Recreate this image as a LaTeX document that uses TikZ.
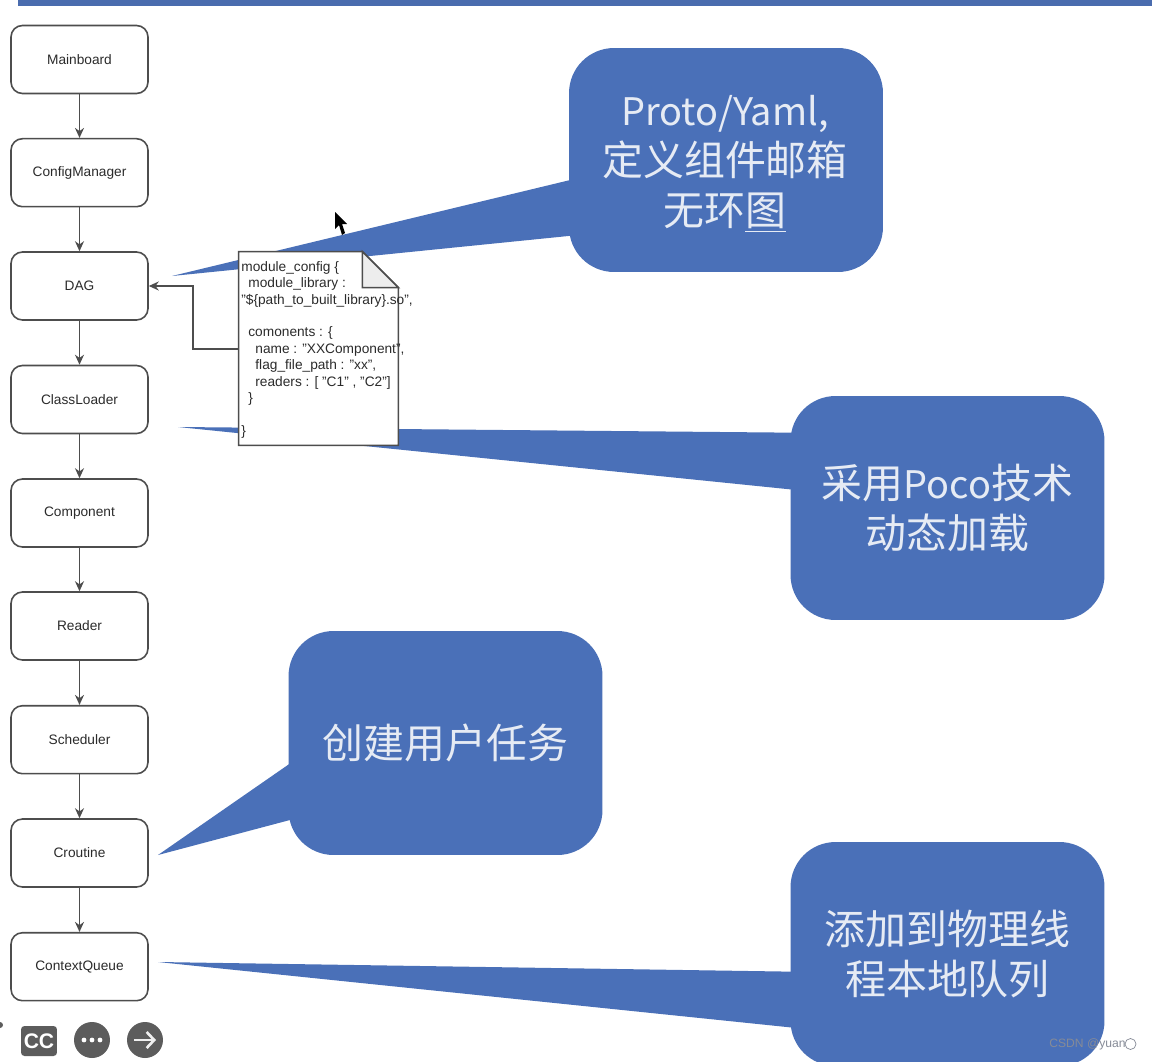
\documentclass[tikz,border=0pt]{standalone}
\usepackage{xcolor}
\usepackage{fontspec}
\setmainfont{Liberation Sans}
\newfontfamily\cjk{Noto Sans CJK SC}
\usepackage{tikz}
\usetikzlibrary{arrows.meta, calc}
\definecolor{calloutblue}{HTML}{4A70B8}
\definecolor{barblue}{HTML}{4A6CAE}
\definecolor{calloutink}{HTML}{E6EBF4}
\definecolor{boxline}{HTML}{4D4D4D}
\definecolor{labelink}{HTML}{2B2B2B}
\definecolor{foldgrey}{HTML}{EDEDED}
\definecolor{icongrey}{HTML}{5C5C5C}
\definecolor{markgrey}{HTML}{868B97}
\newcommand{\latinword}[1]{{\fontsize{21.6}{28.4}\selectfont #1}}
\tikzset{
  stagebox/.style={draw=boxline, line width=0.9pt, rounded corners=6.5pt, fill=white, align=center, font=\fontsize{7.8}{9.3}\selectfont, text=labelink, minimum width=2.74cm, minimum height=1.36cm, inner sep=0pt},
  callout/.style={fill=calloutblue, rounded corners=0.9cm, minimum width=6.28cm, minimum height=4.48cm, inner sep=0pt},
  callouttext/.style={align=center, font=\fontsize{23.3}{28.4}\selectfont\cjk, text=calloutink, inner sep=0pt},
  tail/.style={fill=calloutblue},
  arrow/.style={-{Stealth[length=2mm,width=1.8mm]}, line width=0.9pt, draw=boxline},
  icon/.style={fill=icongrey, text=white, inner sep=0pt},
}
\begin{document}
\begin{tikzpicture}[x=0.02cm, y=-0.02cm]
  \clip (0,0) rectangle (1152,1061);
  \fill[white] (0,0) rectangle (1152,1061);
  \fill[barblue] (18,0) rectangle (1152,6);
  % Stages down the left side
  \foreach \name/\txt/\y in {mainboard/Mainboard/59.5, config/ConfigManager/172.7, dag/DAG/286, loader/ClassLoader/399.5, component/Component/513, reader/Reader/626, scheduler/Scheduler/739.7, croutine/Croutine/853, queue/ContextQueue/966.7}
    \node[stagebox] (\name) at (79.5,\y) {\txt};
  \foreach \a/\b in {mainboard/config, config/dag, dag/loader, loader/component, component/reader, reader/scheduler, scheduler/croutine, croutine/queue}
    \draw[arrow] (\a) -- (\b);
  % Callouts
  \node[callout] (proto) at (726,160) {};
  \node[callout] (poco) at (947.5,508) {};
  \node[callout] (task) at (445.5,743) {};
  \node[callout] (local) at (947.5,954) {};
  \coordinate (prototip) at (172,276);
  \coordinate (pocotip) at (178,427);
  \coordinate (tasktip) at (158,855);
  \coordinate (localtip) at (158,962);
  \foreach \calloutname/\tipname/\upper/\lower in {proto/prototip/132/188, poco/pocotip/37/94, task/tasktip/132/189, local/localtip/130/186}
    \fill[tail] (\tipname) -- ($(\calloutname.north west)+(3,\upper)$) -- ($(\calloutname.north west)+(3,\lower)$) -- cycle;
  \node[callouttext] (prototext) at ($(proto)+(-1,4)$) {\latinword{Proto/Yaml,}\\定义组件邮箱\\无环\underline{图}};
  \node[callouttext] (pocotext) at (poco) {采用\latinword{Poco}技术\\动态加载};
  \node[callouttext] (tasktext) at (task) {创建用户任务};
  \node[callouttext] (localtext) at (local) {添加到物理线\\程本地队列};
  % Config file
  \node[minimum width=3.18cm, minimum height=3.86cm, inner sep=0pt] (doc) at (318.5,348.5) {};
  \coordinate (foldtop) at ($(doc.north east)+(-36,0)$);
  \coordinate (foldside) at ($(doc.north east)+(0,36)$);
  \draw[boxline, line width=0.9pt, fill=white] (foldtop) -- (doc.north west) -- (doc.south west) -- (doc.south east) -- (foldside) -- cycle;
  \draw[boxline, line width=0.9pt, fill=foldgrey] (foldtop) -- (foldside) -- ($(doc.north east)+(-36,36)$) -- cycle;
  \node[anchor=north west, inner sep=0pt, align=left, font=\fontsize{7.8}{9.33}\selectfont, text=labelink] (doctext) at (241,261) {module\_config \{\\
    \hspace{4pt}module\_library :\\
    "\$\{path\_to\_built\_library\}.so",\\
    \mbox{}\\
    \hspace{4pt}comonents : \{\\
    \hspace{8pt}name : "XXComponent",\\
    \hspace{8pt}flag\_file\_path : "xx",\\
    \hspace{8pt}readers : [ "C1" , "C2"]\\
    \hspace{4pt}\}\\
    \mbox{}\\
    \}};
  \coordinate (docbend) at (193,349);
  \draw[arrow] (doc.west |- docbend) -- (docbend) |- (dag.east);
  % Pointer and player controls
  \fill[black] (335,212) -- (335,229) -- (339,225) -- (342,235) -- (345,233) -- (342,224) -- (347,224) -- cycle;
  \fill[icongrey] (0,1025) circle (3);
  \node[icon, rounded corners=2pt, minimum width=0.72cm, minimum height=0.6cm, font=\bfseries\fontsize{12}{12}\selectfont] (cc) at (39,1041) {CC};
  \node[icon, circle, minimum size=0.72cm] (more) at (92,1040) {};
  \foreach \dx in {-8,0,8} \fill[white] ($(more)+(\dx,0)$) circle (2.4);
  \node[icon, circle, minimum size=0.72cm] (next) at (145,1040) {};
  \draw[white!90!icongrey, line width=1.5pt, -{Straight Barb[length=1.5mm,width=3.2mm]}] ($(next)+(-11,0)$) -- ($(next)+(11,0)$);
  % Watermark
  \node[anchor=west, inner sep=0pt, text=markgrey, font=\fontsize{6.9}{8}\selectfont] (mark) at (1049,1044) {CSDN @yuan};
  \draw[markgrey, line width=0.4pt] (1130.5,1044) circle (5.5);
\end{tikzpicture}
\end{document}
